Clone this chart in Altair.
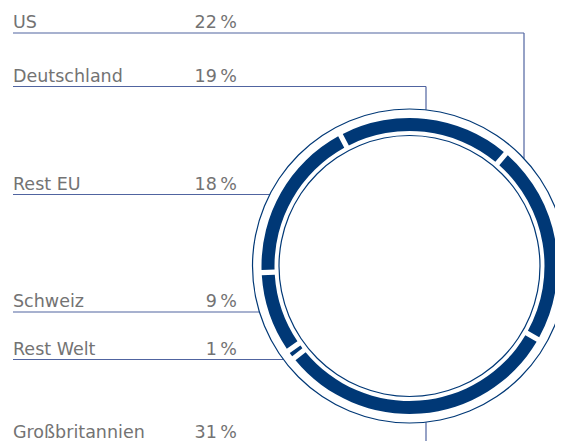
import math
import altair as alt
import pandas as pd

# ---- data ----
categories = ["US", "Deutschland", "Rest EU", "Schweiz", "Rest Welt", "Großbritannien"]
shares = [22, 19, 18, 9, 1, 31]
# clockwise order of the segments in the ring
ring_order = ["Deutschland", "US", "Großbritannien", "Rest Welt", "Schweiz", "Rest EU"]

# ---- layout ----
W, H = 547, 433
CX, CY = 401.5, 258
R_OUT, R_IN = 157, 130.5
BAND_OUT, BAND_IN = 148, 135
START = math.radians(-27.8) + 2 * math.pi
label_x, pct_x = 5, 229
baselines = [20, 73.5, 181.5, 299, 346.5, 429.5]
line_gap = 5
FONT = "DejaVu Sans"
FONT_SIZE = 17.5
TEXT_COLOR = "#737373"
LINE_COLOR = "#5064a0"
RING_COLOR = "#003876"

pct_text = [f"{v}\u202f%" for v in shares]

ring_df = pd.DataFrame({
    "cat": ring_order,
    "share": [shares[categories.index(c)] for c in ring_order],
    "ord": list(range(len(ring_order))),
})

lab_df = pd.DataFrame({"cat": categories, "pct": pct_text, "y": baselines})


def circle_x_left(y):
    return CX - math.sqrt(R_OUT ** 2 - (y - CY) ** 2)


def circle_y(x, top=True):
    d = math.sqrt(R_OUT ** 2 - (x - CX) ** 2)
    return CY - d if top else CY + d


# leader segments
segs = []
us_y = baselines[0] + line_gap
us_x = 516
segs.append((label_x, us_x, us_y, us_y))
segs.append((us_x, us_x, us_y, circle_y(us_x)))
de_y = baselines[1] + line_gap
de_x = 418
segs.append((label_x, de_x, de_y, de_y))
segs.append((de_x, de_x, de_y, circle_y(de_x)))
for i in (2, 3, 4):
    yy = baselines[i] + line_gap
    segs.append((label_x, circle_x_left(yy), yy, yy))
segs.append((de_x, de_x, circle_y(de_x, top=False), H))
seg_df = pd.DataFrame(segs, columns=["x", "x2", "y", "y2"])

xs = alt.Scale(domain=[0, W], range=[0, W], nice=False, zero=False)
ys = alt.Scale(domain=[0, H], range=[0, H], nice=False, zero=False)

one = pd.DataFrame({"k": [0]})

outer_c = alt.Chart(one).mark_arc(
    theta=0, theta2=2 * math.pi, radius=R_OUT + 0.6, radius2=R_OUT - 0.6, color=RING_COLOR
).encode(x=alt.value(CX), y=alt.value(CY))
inner_c = alt.Chart(one).mark_arc(
    theta=0, theta2=2 * math.pi, radius=R_IN + 0.6, radius2=R_IN - 0.6, color=RING_COLOR
).encode(x=alt.value(CX), y=alt.value(CY))

ring = alt.Chart(ring_df).mark_arc(
    radius=BAND_OUT, radius2=BAND_IN, padAngle=0.026, color=RING_COLOR
).encode(
    theta=alt.Theta("share:Q", stack=True, scale=alt.Scale(range=[START, START + 2 * math.pi])),
    order=alt.Order("ord:Q"),
    x=alt.value(CX),
    y=alt.value(CY),
)

lines = alt.Chart(seg_df).mark_rule(color=LINE_COLOR, strokeWidth=1.2).encode(
    x=alt.X("x:Q", scale=xs, axis=None),
    x2="x2:Q",
    y=alt.Y("y:Q", scale=ys, axis=None),
    y2="y2:Q",
)

names = alt.Chart(lab_df).mark_text(
    align="left", baseline="alphabetic", font=FONT, fontSize=FONT_SIZE, color=TEXT_COLOR
).encode(
    x=alt.value(label_x),
    y=alt.Y("y:Q", scale=ys, axis=None),
    text="cat:N",
)
pcts = alt.Chart(lab_df).mark_text(
    align="right", baseline="alphabetic", font=FONT, fontSize=FONT_SIZE, color=TEXT_COLOR
).encode(
    x=alt.value(pct_x),
    y=alt.Y("y:Q", scale=ys, axis=None),
    text="pct:N",
)

chart = alt.layer(lines, outer_c, inner_c, ring, names, pcts).properties(
    width=W, height=H, padding=0, autosize=alt.AutoSizeParams(type="none")
).configure_view(stroke=None)

chart.save("out.html", embed_options={"renderer": "svg", "actions": False})
